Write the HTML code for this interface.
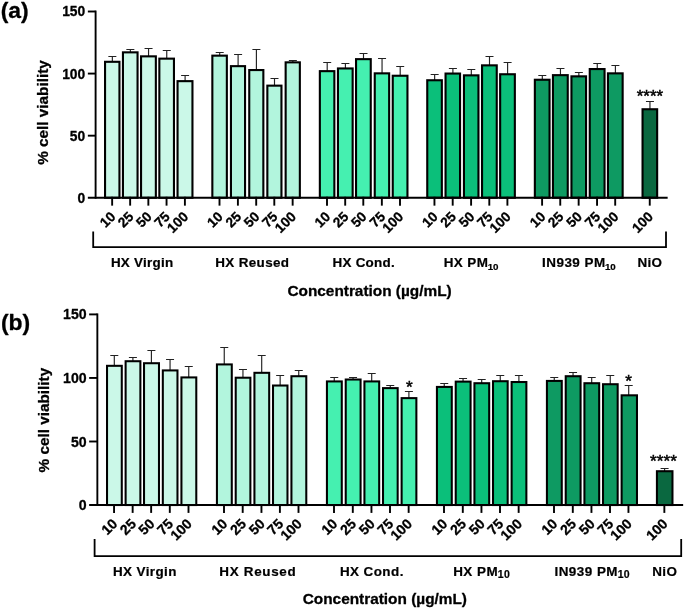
<!DOCTYPE html>
<html lang="en">
<head>
<meta charset="utf-8">
<title>Cell viability</title>
<style>
html,body{margin:0;padding:0;background:#fff;}
body{width:685px;height:609px;overflow:hidden;}
svg{display:block;}
text{font-family:"Liberation Sans",Arial,Helvetica,sans-serif;fill:#000;}
.b{font-weight:700;stroke:#000;stroke-width:0.3px;stroke-linejoin:round;}
.g{font-weight:700;stroke:#000;stroke-width:0.2px;}
.s{font-weight:400;stroke:#000;stroke-width:0.4px;}
.r{font-weight:400;stroke:#000;stroke-width:0.5px;}
.ls{letter-spacing:0;}
.bar{stroke:#000;}
.ax{stroke:#000;stroke-width:1.9;fill:none;stroke-linecap:square;}
.br{stroke:#000;stroke-width:1.8;fill:none;stroke-linecap:square;}
.eb{stroke:#222;stroke-width:1.15;fill:none;}
</style>
</head>
<body>
<svg width="685" height="609" viewBox="0 0 685 609">
<rect width="685" height="609" fill="#fff"/>
<g id="chart-a">
<path d="M112.35 61.75V56.5M108.35 56.5H116.35" class="eb"/>
<rect x="105.05" y="61.8" width="14.4" height="135.95" fill="#cbf8e8" stroke-width="2.1" class="bar"/>
<path d="M130.35 52.3V49.5M126.35 49.5H134.35" class="eb"/>
<rect x="122.95" y="52.35" width="14.6" height="145.4" fill="#cbf8e8" stroke-width="2.1" class="bar"/>
<path d="M148.55 56.3V48.5M144.55 48.5H152.55" class="eb"/>
<rect x="141.05" y="56.35" width="14.8" height="141.4" fill="#cbf8e8" stroke-width="2.1" class="bar"/>
<path d="M166.75 58.6V50.5M162.75 50.5H170.75" class="eb"/>
<rect x="159.35" y="58.65" width="14.6" height="139.1" fill="#cbf8e8" stroke-width="2.1" class="bar"/>
<path d="M185.1 81.1V75.5M181.1 75.5H189.1" class="eb"/>
<rect x="177.55" y="81.15" width="14.9" height="116.6" fill="#cbf8e8" stroke-width="2.1" class="bar"/>
<path d="M219.7 55.6V52.5M215.7 52.5H223.7" class="eb"/>
<rect x="212.35" y="55.65" width="14.5" height="142.1" fill="#b2f5dd" stroke-width="2.1" class="bar"/>
<path d="M238.1 66.1V54.5M234.1 54.5H242.1" class="eb"/>
<rect x="230.95" y="66.15" width="14.1" height="131.6" fill="#b2f5dd" stroke-width="2.1" class="bar"/>
<path d="M256.4 70V49.5M252.4 49.5H260.4" class="eb"/>
<rect x="249.25" y="70.05" width="14.1" height="127.7" fill="#b2f5dd" stroke-width="2.1" class="bar"/>
<path d="M274.5 85.6V78.5M270.5 78.5H278.5" class="eb"/>
<rect x="267.35" y="85.65" width="14.1" height="112.1" fill="#b2f5dd" stroke-width="2.1" class="bar"/>
<path d="M292.85 62.3V60.5M288.85 60.5H296.85" class="eb"/>
<rect x="285.65" y="62.35" width="14.2" height="135.4" fill="#b2f5dd" stroke-width="2.1" class="bar"/>
<path d="M327.2 71.1V62.5M323.2 62.5H331.2" class="eb"/>
<rect x="319.85" y="71.15" width="14.5" height="126.6" fill="#45f0b0" stroke-width="2.1" class="bar"/>
<path d="M345.4 68.4V63.5M341.4 63.5H349.4" class="eb"/>
<rect x="337.95" y="68.45" width="14.7" height="129.3" fill="#45f0b0" stroke-width="2.1" class="bar"/>
<path d="M363.5 59.1V53.5M359.5 53.5H367.5" class="eb"/>
<rect x="356.05" y="59.15" width="14.7" height="138.6" fill="#45f0b0" stroke-width="2.1" class="bar"/>
<path d="M382.05 73.3V58.5M378.05 58.5H386.05" class="eb"/>
<rect x="374.75" y="73.35" width="14.4" height="124.4" fill="#45f0b0" stroke-width="2.1" class="bar"/>
<path d="M400.2 75.7V66.5M396.2 66.5H404.2" class="eb"/>
<rect x="392.75" y="75.75" width="14.7" height="122" fill="#45f0b0" stroke-width="2.1" class="bar"/>
<path d="M434.65 80.2V74.5M430.65 74.5H438.65" class="eb"/>
<rect x="427.25" y="80.25" width="14.6" height="117.5" fill="#0bbf7a" stroke-width="2.1" class="bar"/>
<path d="M452.9 73.5V68.5M448.9 68.5H456.9" class="eb"/>
<rect x="445.55" y="73.55" width="14.5" height="124.2" fill="#0bbf7a" stroke-width="2.1" class="bar"/>
<path d="M471.3 75.3V69.5M467.3 69.5H475.3" class="eb"/>
<rect x="463.95" y="75.35" width="14.5" height="122.4" fill="#0bbf7a" stroke-width="2.1" class="bar"/>
<path d="M489.5 65.3V56.5M485.5 56.5H493.5" class="eb"/>
<rect x="482.05" y="65.35" width="14.7" height="132.4" fill="#0bbf7a" stroke-width="2.1" class="bar"/>
<path d="M507.6 74.2V62.5M503.6 62.5H511.6" class="eb"/>
<rect x="500.15" y="74.25" width="14.7" height="123.5" fill="#0bbf7a" stroke-width="2.1" class="bar"/>
<path d="M542.3 79.7V75.5M538.3 75.5H546.3" class="eb"/>
<rect x="534.85" y="79.75" width="14.7" height="118" fill="#0e9a62" stroke-width="2.1" class="bar"/>
<path d="M560.45 75.1V68.5M556.45 68.5H564.45" class="eb"/>
<rect x="552.95" y="75.15" width="14.8" height="122.6" fill="#0e9a62" stroke-width="2.1" class="bar"/>
<path d="M578.85 76.3V72.5M574.85 72.5H582.85" class="eb"/>
<rect x="571.45" y="76.35" width="14.6" height="121.4" fill="#0e9a62" stroke-width="2.1" class="bar"/>
<path d="M597.25 69V63.5M593.25 63.5H601.25" class="eb"/>
<rect x="589.75" y="69.05" width="14.8" height="128.7" fill="#0e9a62" stroke-width="2.1" class="bar"/>
<path d="M615.4 73.3V65.5M611.4 65.5H619.4" class="eb"/>
<rect x="607.95" y="73.35" width="14.7" height="124.4" fill="#0e9a62" stroke-width="2.1" class="bar"/>
<path d="M649.95 109.2V101.5M645.95 101.5H653.95" class="eb"/>
<rect x="642.55" y="109.25" width="14.6" height="88.5" fill="#0a6840" stroke-width="2.1" class="bar"/>
<path d="M95.6 11.5V197.75" class="ax"/>
<path d="M88.8 197.75H666.7" class="ax"/>
<path d="M88.8 135.67H94.65" class="ax"/>
<path d="M88.8 73.58H94.65" class="ax"/>
<path d="M88.8 11.5H94.65" class="ax"/>
<text x="85.2" y="202.72" font-size="13.8" text-anchor="end" class="b ls">0</text>
<text x="85.2" y="140.63" font-size="13.8" text-anchor="end" class="b ls">50</text>
<text x="85.2" y="78.55" font-size="13.8" text-anchor="end" class="b ls">100</text>
<text x="85.2" y="16.47" font-size="13.8" text-anchor="end" class="b ls">150</text>
<path d="M112.15 197.75V204.7" class="ax"/>
<text transform="translate(109.35 210.45) rotate(-45)" font-size="13.8" text-anchor="end" class="b ls" dy="0.72em">10</text>
<path d="M130.15 197.75V204.7" class="ax"/>
<text transform="translate(127.35 210.45) rotate(-45)" font-size="13.8" text-anchor="end" class="b ls" dy="0.72em">25</text>
<path d="M148.35 197.75V204.7" class="ax"/>
<text transform="translate(145.55 210.45) rotate(-45)" font-size="13.8" text-anchor="end" class="b ls" dy="0.72em">50</text>
<path d="M166.55 197.75V204.7" class="ax"/>
<text transform="translate(163.75 210.45) rotate(-45)" font-size="13.8" text-anchor="end" class="b ls" dy="0.72em">75</text>
<path d="M184.9 197.75V204.7" class="ax"/>
<text transform="translate(182.1 210.45) rotate(-45)" font-size="13.8" text-anchor="end" class="b ls" dy="0.72em">100</text>
<path d="M219.5 197.75V204.7" class="ax"/>
<text transform="translate(216.7 210.45) rotate(-45)" font-size="13.8" text-anchor="end" class="b ls" dy="0.72em">10</text>
<path d="M237.9 197.75V204.7" class="ax"/>
<text transform="translate(235.1 210.45) rotate(-45)" font-size="13.8" text-anchor="end" class="b ls" dy="0.72em">25</text>
<path d="M256.2 197.75V204.7" class="ax"/>
<text transform="translate(253.4 210.45) rotate(-45)" font-size="13.8" text-anchor="end" class="b ls" dy="0.72em">50</text>
<path d="M274.3 197.75V204.7" class="ax"/>
<text transform="translate(271.5 210.45) rotate(-45)" font-size="13.8" text-anchor="end" class="b ls" dy="0.72em">75</text>
<path d="M292.65 197.75V204.7" class="ax"/>
<text transform="translate(289.85 210.45) rotate(-45)" font-size="13.8" text-anchor="end" class="b ls" dy="0.72em">100</text>
<path d="M327 197.75V204.7" class="ax"/>
<text transform="translate(324.2 210.45) rotate(-45)" font-size="13.8" text-anchor="end" class="b ls" dy="0.72em">10</text>
<path d="M345.2 197.75V204.7" class="ax"/>
<text transform="translate(342.4 210.45) rotate(-45)" font-size="13.8" text-anchor="end" class="b ls" dy="0.72em">25</text>
<path d="M363.3 197.75V204.7" class="ax"/>
<text transform="translate(360.5 210.45) rotate(-45)" font-size="13.8" text-anchor="end" class="b ls" dy="0.72em">50</text>
<path d="M381.85 197.75V204.7" class="ax"/>
<text transform="translate(379.05 210.45) rotate(-45)" font-size="13.8" text-anchor="end" class="b ls" dy="0.72em">75</text>
<path d="M400 197.75V204.7" class="ax"/>
<text transform="translate(397.2 210.45) rotate(-45)" font-size="13.8" text-anchor="end" class="b ls" dy="0.72em">100</text>
<path d="M434.45 197.75V204.7" class="ax"/>
<text transform="translate(431.65 210.45) rotate(-45)" font-size="13.8" text-anchor="end" class="b ls" dy="0.72em">10</text>
<path d="M452.7 197.75V204.7" class="ax"/>
<text transform="translate(449.9 210.45) rotate(-45)" font-size="13.8" text-anchor="end" class="b ls" dy="0.72em">25</text>
<path d="M471.1 197.75V204.7" class="ax"/>
<text transform="translate(468.3 210.45) rotate(-45)" font-size="13.8" text-anchor="end" class="b ls" dy="0.72em">50</text>
<path d="M489.3 197.75V204.7" class="ax"/>
<text transform="translate(486.5 210.45) rotate(-45)" font-size="13.8" text-anchor="end" class="b ls" dy="0.72em">75</text>
<path d="M507.4 197.75V204.7" class="ax"/>
<text transform="translate(504.6 210.45) rotate(-45)" font-size="13.8" text-anchor="end" class="b ls" dy="0.72em">100</text>
<path d="M542.1 197.75V204.7" class="ax"/>
<text transform="translate(539.3 210.45) rotate(-45)" font-size="13.8" text-anchor="end" class="b ls" dy="0.72em">10</text>
<path d="M560.25 197.75V204.7" class="ax"/>
<text transform="translate(557.45 210.45) rotate(-45)" font-size="13.8" text-anchor="end" class="b ls" dy="0.72em">25</text>
<path d="M578.65 197.75V204.7" class="ax"/>
<text transform="translate(575.85 210.45) rotate(-45)" font-size="13.8" text-anchor="end" class="b ls" dy="0.72em">50</text>
<path d="M597.05 197.75V204.7" class="ax"/>
<text transform="translate(594.25 210.45) rotate(-45)" font-size="13.8" text-anchor="end" class="b ls" dy="0.72em">75</text>
<path d="M615.2 197.75V204.7" class="ax"/>
<text transform="translate(612.4 210.45) rotate(-45)" font-size="13.8" text-anchor="end" class="b ls" dy="0.72em">100</text>
<path d="M649.75 197.75V204.7" class="ax"/>
<text transform="translate(646.95 210.45) rotate(-45)" font-size="13.8" text-anchor="end" class="b ls" dy="0.72em">100</text>
<text x="649.9" y="102" font-size="16.9" text-anchor="middle" class="r">****</text>
<path d="M93.2 232.3V247.1H666V232.3" class="br"/>
<text transform="translate(110.89 267.2) scale(1.05 1)" font-size="12.8" letter-spacing="0.251" class="g">HX Virgin</text>
<text transform="translate(215.29 267.2) scale(1.05 1)" font-size="12.8" letter-spacing="0.336" class="g">HX Reused</text>
<text transform="translate(332.48 267.2) scale(1.05 1)" font-size="12.8" letter-spacing="0.243" class="g">HX Cond.</text>
<text transform="translate(443.63 267.2) scale(1.05 1)" font-size="12.8" letter-spacing="0.431" class="g">HX PM<tspan x="42.04" dy="2.6" font-size="9.3" letter-spacing="-0.108">10</tspan></text>
<text transform="translate(542.03 267.2) scale(1.05 1)" font-size="12.8" letter-spacing="0.463" class="g">IN939 PM<tspan x="59.94" dy="2.6" font-size="9.3" letter-spacing="-0.108">10</tspan></text>
<text transform="translate(637.43 267.2) scale(1.05 1)" font-size="12.8" letter-spacing="0.360" class="g">NiO</text>
<text x="287.4" y="296.3" font-size="15.38" class="b">Concentration (µg/mL)</text>
<text transform="translate(48 164.8) rotate(-90)" font-size="15.3" class="b">% cell viability</text>
<text x="0.7" y="18.4" font-size="22.9" class="b">(a)</text>
</g>
<g id="chart-b">
<path d="M114.3 365.8V355.5M110.3 355.5H118.3" class="eb"/>
<rect x="107.03" y="365.82" width="14.75" height="139.22" fill="#cbf8e8" stroke-width="2.05" class="bar"/>
<path d="M132.9 361.2V357.5M128.9 357.5H136.9" class="eb"/>
<rect x="125.62" y="361.22" width="14.75" height="143.83" fill="#cbf8e8" stroke-width="2.05" class="bar"/>
<path d="M151.4 363.2V350.5M147.4 350.5H155.4" class="eb"/>
<rect x="144.03" y="363.22" width="14.95" height="141.83" fill="#cbf8e8" stroke-width="2.05" class="bar"/>
<path d="M170.05 370.4V359.5M166.05 359.5H174.05" class="eb"/>
<rect x="162.82" y="370.42" width="14.65" height="134.63" fill="#cbf8e8" stroke-width="2.05" class="bar"/>
<path d="M188.75 377.4V366.5M184.75 366.5H192.75" class="eb"/>
<rect x="181.43" y="377.42" width="14.85" height="127.63" fill="#cbf8e8" stroke-width="2.05" class="bar"/>
<path d="M224.25 364.4V347.5M220.25 347.5H228.25" class="eb"/>
<rect x="216.93" y="364.42" width="14.85" height="140.63" fill="#b2f5dd" stroke-width="2.05" class="bar"/>
<path d="M242.95 377.7V369.5M238.95 369.5H246.95" class="eb"/>
<rect x="235.72" y="377.72" width="14.65" height="127.33" fill="#b2f5dd" stroke-width="2.05" class="bar"/>
<path d="M261.7 372.8V355.5M257.7 355.5H265.7" class="eb"/>
<rect x="254.43" y="372.82" width="14.75" height="132.22" fill="#b2f5dd" stroke-width="2.05" class="bar"/>
<path d="M280.15 385.5V375.5M276.15 375.5H284.15" class="eb"/>
<rect x="273.02" y="385.52" width="14.45" height="119.53" fill="#b2f5dd" stroke-width="2.05" class="bar"/>
<path d="M298.75 376.2V370.5M294.75 370.5H302.75" class="eb"/>
<rect x="291.43" y="376.22" width="14.85" height="128.83" fill="#b2f5dd" stroke-width="2.05" class="bar"/>
<path d="M334.25 381.4V377.5M330.25 377.5H338.25" class="eb"/>
<rect x="326.93" y="381.42" width="14.85" height="123.63" fill="#45f0b0" stroke-width="2.05" class="bar"/>
<path d="M353.05 379.5V377.5M349.05 377.5H357.05" class="eb"/>
<rect x="345.73" y="379.52" width="14.85" height="125.53" fill="#45f0b0" stroke-width="2.05" class="bar"/>
<path d="M371.7 381.4V373.5M367.7 373.5H375.7" class="eb"/>
<rect x="364.43" y="381.42" width="14.75" height="123.63" fill="#45f0b0" stroke-width="2.05" class="bar"/>
<path d="M390.25 388.1V385.5M386.25 385.5H394.25" class="eb"/>
<rect x="383.02" y="388.12" width="14.65" height="116.92" fill="#45f0b0" stroke-width="2.05" class="bar"/>
<path d="M408.9 398.1V391.5M404.9 391.5H412.9" class="eb"/>
<rect x="401.62" y="398.12" width="14.75" height="106.92" fill="#45f0b0" stroke-width="2.05" class="bar"/>
<path d="M444.25 386.9V383.5M440.25 383.5H448.25" class="eb"/>
<rect x="436.93" y="386.92" width="14.85" height="118.13" fill="#0bbf7a" stroke-width="2.05" class="bar"/>
<path d="M463.05 381.6V378.5M459.05 378.5H467.05" class="eb"/>
<rect x="455.73" y="381.62" width="14.85" height="123.42" fill="#0bbf7a" stroke-width="2.05" class="bar"/>
<path d="M481.7 383.2V379.5M477.7 379.5H485.7" class="eb"/>
<rect x="474.43" y="383.22" width="14.75" height="121.83" fill="#0bbf7a" stroke-width="2.05" class="bar"/>
<path d="M500.25 381.2V375.5M496.25 375.5H504.25" class="eb"/>
<rect x="493.02" y="381.22" width="14.65" height="123.83" fill="#0bbf7a" stroke-width="2.05" class="bar"/>
<path d="M518.9 382V375.5M514.9 375.5H522.9" class="eb"/>
<rect x="511.62" y="382.02" width="14.75" height="123.03" fill="#0bbf7a" stroke-width="2.05" class="bar"/>
<path d="M554.25 380.9V377.5M550.25 377.5H558.25" class="eb"/>
<rect x="546.92" y="380.92" width="14.85" height="124.13" fill="#0e9a62" stroke-width="2.05" class="bar"/>
<path d="M573.05 376.2V372.5M569.05 372.5H577.05" class="eb"/>
<rect x="565.73" y="376.22" width="14.85" height="128.83" fill="#0e9a62" stroke-width="2.05" class="bar"/>
<path d="M591.7 383.2V377.5M587.7 377.5H595.7" class="eb"/>
<rect x="584.42" y="383.22" width="14.75" height="121.83" fill="#0e9a62" stroke-width="2.05" class="bar"/>
<path d="M610.25 384.2V375.5M606.25 375.5H614.25" class="eb"/>
<rect x="603.02" y="384.22" width="14.65" height="120.83" fill="#0e9a62" stroke-width="2.05" class="bar"/>
<path d="M628.7 395.3V385.5M624.7 385.5H632.7" class="eb"/>
<rect x="621.62" y="395.32" width="15.35" height="109.72" fill="#0e9a62" stroke-width="2.05" class="bar"/>
<path d="M664.6 471.2V468.5M660.6 468.5H668.6" class="eb"/>
<rect x="656.92" y="471.22" width="15.55" height="33.83" fill="#0a6840" stroke-width="2.05" class="bar"/>
<path d="M97.35 314.4V505.05" class="ax"/>
<path d="M90.1 505.05H682.2" class="ax"/>
<path d="M90.1 441.5H96.4" class="ax"/>
<path d="M90.1 377.95H96.4" class="ax"/>
<path d="M90.1 314.4H96.4" class="ax"/>
<text x="86.6" y="510.13" font-size="14.1" text-anchor="end" class="b ls">0</text>
<text x="86.6" y="446.58" font-size="14.1" text-anchor="end" class="b ls">50</text>
<text x="86.6" y="383.03" font-size="14.1" text-anchor="end" class="b ls">100</text>
<text x="86.6" y="319.48" font-size="14.1" text-anchor="end" class="b ls">150</text>
<path d="M114.05 505.05V511.95" class="ax"/>
<text transform="translate(111.15 517.45) rotate(-45)" font-size="14.1" text-anchor="end" class="b ls" dy="0.72em">10</text>
<path d="M132.65 505.05V511.95" class="ax"/>
<text transform="translate(129.75 517.45) rotate(-45)" font-size="14.1" text-anchor="end" class="b ls" dy="0.72em">25</text>
<path d="M151.15 505.05V511.95" class="ax"/>
<text transform="translate(148.25 517.45) rotate(-45)" font-size="14.1" text-anchor="end" class="b ls" dy="0.72em">50</text>
<path d="M169.8 505.05V511.95" class="ax"/>
<text transform="translate(166.9 517.45) rotate(-45)" font-size="14.1" text-anchor="end" class="b ls" dy="0.72em">75</text>
<path d="M188.5 505.05V511.95" class="ax"/>
<text transform="translate(185.6 517.45) rotate(-45)" font-size="14.1" text-anchor="end" class="b ls" dy="0.72em">100</text>
<path d="M224 505.05V511.95" class="ax"/>
<text transform="translate(221.1 517.45) rotate(-45)" font-size="14.1" text-anchor="end" class="b ls" dy="0.72em">10</text>
<path d="M242.7 505.05V511.95" class="ax"/>
<text transform="translate(239.8 517.45) rotate(-45)" font-size="14.1" text-anchor="end" class="b ls" dy="0.72em">25</text>
<path d="M261.45 505.05V511.95" class="ax"/>
<text transform="translate(258.55 517.45) rotate(-45)" font-size="14.1" text-anchor="end" class="b ls" dy="0.72em">50</text>
<path d="M279.9 505.05V511.95" class="ax"/>
<text transform="translate(277 517.45) rotate(-45)" font-size="14.1" text-anchor="end" class="b ls" dy="0.72em">75</text>
<path d="M298.5 505.05V511.95" class="ax"/>
<text transform="translate(295.6 517.45) rotate(-45)" font-size="14.1" text-anchor="end" class="b ls" dy="0.72em">100</text>
<path d="M334 505.05V511.95" class="ax"/>
<text transform="translate(331.1 517.45) rotate(-45)" font-size="14.1" text-anchor="end" class="b ls" dy="0.72em">10</text>
<path d="M352.8 505.05V511.95" class="ax"/>
<text transform="translate(349.9 517.45) rotate(-45)" font-size="14.1" text-anchor="end" class="b ls" dy="0.72em">25</text>
<path d="M371.45 505.05V511.95" class="ax"/>
<text transform="translate(368.55 517.45) rotate(-45)" font-size="14.1" text-anchor="end" class="b ls" dy="0.72em">50</text>
<path d="M390 505.05V511.95" class="ax"/>
<text transform="translate(387.1 517.45) rotate(-45)" font-size="14.1" text-anchor="end" class="b ls" dy="0.72em">75</text>
<path d="M408.65 505.05V511.95" class="ax"/>
<text transform="translate(405.75 517.45) rotate(-45)" font-size="14.1" text-anchor="end" class="b ls" dy="0.72em">100</text>
<path d="M444 505.05V511.95" class="ax"/>
<text transform="translate(441.1 517.45) rotate(-45)" font-size="14.1" text-anchor="end" class="b ls" dy="0.72em">10</text>
<path d="M462.8 505.05V511.95" class="ax"/>
<text transform="translate(459.9 517.45) rotate(-45)" font-size="14.1" text-anchor="end" class="b ls" dy="0.72em">25</text>
<path d="M481.45 505.05V511.95" class="ax"/>
<text transform="translate(478.55 517.45) rotate(-45)" font-size="14.1" text-anchor="end" class="b ls" dy="0.72em">50</text>
<path d="M500 505.05V511.95" class="ax"/>
<text transform="translate(497.1 517.45) rotate(-45)" font-size="14.1" text-anchor="end" class="b ls" dy="0.72em">75</text>
<path d="M518.65 505.05V511.95" class="ax"/>
<text transform="translate(515.75 517.45) rotate(-45)" font-size="14.1" text-anchor="end" class="b ls" dy="0.72em">100</text>
<path d="M554 505.05V511.95" class="ax"/>
<text transform="translate(551.1 517.45) rotate(-45)" font-size="14.1" text-anchor="end" class="b ls" dy="0.72em">10</text>
<path d="M572.8 505.05V511.95" class="ax"/>
<text transform="translate(569.9 517.45) rotate(-45)" font-size="14.1" text-anchor="end" class="b ls" dy="0.72em">25</text>
<path d="M591.45 505.05V511.95" class="ax"/>
<text transform="translate(588.55 517.45) rotate(-45)" font-size="14.1" text-anchor="end" class="b ls" dy="0.72em">50</text>
<path d="M610 505.05V511.95" class="ax"/>
<text transform="translate(607.1 517.45) rotate(-45)" font-size="14.1" text-anchor="end" class="b ls" dy="0.72em">75</text>
<path d="M628.45 505.05V511.95" class="ax"/>
<text transform="translate(625.55 517.45) rotate(-45)" font-size="14.1" text-anchor="end" class="b ls" dy="0.72em">100</text>
<path d="M664.35 505.05V511.95" class="ax"/>
<text transform="translate(661.45 517.45) rotate(-45)" font-size="14.1" text-anchor="end" class="b ls" dy="0.72em">100</text>
<text x="409.4" y="392.9" font-size="17.2" text-anchor="middle" class="r">*</text>
<text x="628.7" y="387.4" font-size="17.2" text-anchor="middle" class="r">*</text>
<text x="663.5" y="467.4" font-size="17.2" text-anchor="middle" class="r">****</text>
<path d="M94.6 540V556.2H681.2V540" class="br"/>
<text transform="translate(112.98 576) scale(1.05 1)" font-size="12.8" letter-spacing="0.383" class="g">HX Virgin</text>
<text transform="translate(219.29 576) scale(1.05 1)" font-size="12.8" letter-spacing="0.658" class="g">HX Reused</text>
<text transform="translate(339.88 576) scale(1.05 1)" font-size="12.8" letter-spacing="0.420" class="g">HX Cond.</text>
<text transform="translate(453.13 576) scale(1.05 1)" font-size="12.8" letter-spacing="0.502" class="g">HX PM<tspan x="42.52" dy="2.3" font-size="10" letter-spacing="0.283">10</tspan></text>
<text transform="translate(554.43 576) scale(1.05 1)" font-size="12.8" letter-spacing="0.463" class="g">IN939 PM<tspan x="60.28" dy="2.3" font-size="10" letter-spacing="0.236">10</tspan></text>
<text transform="translate(652.23 576) scale(1.05 1)" font-size="12.8" letter-spacing="0.360" class="g">NiO</text>
<text x="302.7" y="603.6" font-size="15.38" class="b">Concentration (µg/mL)</text>
<text transform="translate(48.7 472.4) rotate(-90)" font-size="15.3" class="b">% cell viability</text>
<text x="1" y="330.4" font-size="22.9" class="b">(b)</text>
</g>
</svg>
</body>
</html>
